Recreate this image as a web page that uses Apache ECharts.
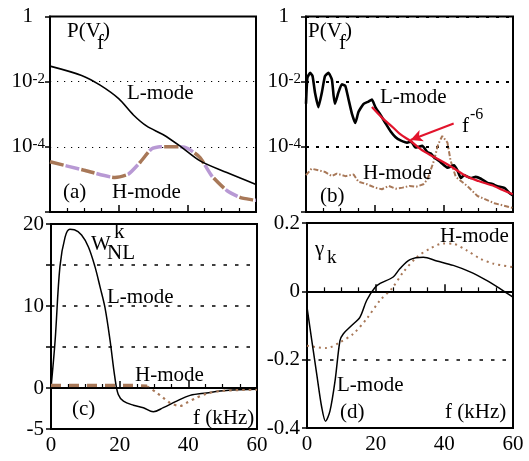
<!DOCTYPE html>
<html><head><meta charset="utf-8">
<script src="https://cdn.jsdelivr.net/npm/echarts@6/dist/echarts.min.js"></script>
<style>html,body{margin:0;padding:0;background:#fff}#c{width:529px;height:461px}</style>
</head><body><div id="c"></div>
<script>
const FONT = 'Liberation Serif';

// ---------- x axis (frequency, kHz) ----------
const xTickLabels = [0, 20, 40, 60];

// ---------- panel (a): P(Vf) ----------
const logTickExp = [0, -2, -4];
const fA_L = [0, 9.2, 14.6, 20, 24.3, 28.2, 33, 37.9, 43.7, 51.5, 60];
const pA_L = [3.0e-2, 1.55e-2, 7.8e-3, 3.0e-3, 9.5e-4, 4.3e-4, 2.35e-4, 1.05e-4, 3.7e-5, 1.62e-5, 7.0e-6];
const fA_H = [0, 9.7, 18.9, 22.8, 26.2, 29.6, 32, 37.9, 40.3, 43.7, 47.1, 51.5, 55.3, 59.2, 60];
const pA_H = [3.47e-5, 1.95e-5, 1.15e-5, 1.45e-5, 3.31e-5, 8.7e-5, 1.0e-4, 1.0e-4, 8.7e-5, 4.68e-5, 1.29e-5, 4.57e-6, 2.82e-6, 2.34e-6, 2.3e-6];

// ---------- panel (b): P(Vf) ----------
const fB_L = [0, 0.4, 1.2, 1.9, 2.6, 3.6, 4.6, 5.5, 6.5, 7.5, 8.0, 8.4, 9.4, 10.4, 11.4, 12.3, 13.3, 14.3, 15.2, 16.7, 18.1, 19.1, 20.1, 21.6, 23, 24.5, 25.9, 27.4, 29.3, 30.5, 31.7, 33.7, 35.2, 36.2, 37.1, 39, 41, 42.9, 43.9, 44.9, 45.8, 47.8, 49.2, 50.7, 52.6, 54, 55.5, 57.5, 58.9, 60];
const pB_L = [2.09e-3, 1.32e-2, 1.86e-2, 1.48e-2, 4.68e-3, 1.66e-3, 4.68e-3, 1.48e-2, 1.86e-2, 1.17e-2, 3.72e-3, 2.09e-3, 4.68e-3, 8.3e-3, 7.4e-3, 2.95e-3, 1.05e-3, 5.4e-4, 1.17e-3, 2.09e-3, 2.45e-3, 2.82e-3, 1.66e-3, 9.5e-4, 5.4e-4, 3.0e-4, 2.0e-4, 1.58e-4, 1.35e-4, 1.45e-4, 9.5e-5, 1.07e-4, 6.8e-5, 6.2e-5, 4.8e-5, 3.4e-5, 2.3e-5, 2.7e-5, 1.9e-5, 1.1e-5, 1.35e-5, 1.1e-5, 1.2e-5, 1.05e-5, 7.8e-6, 7.2e-6, 6.2e-6, 5.5e-6, 3.9e-6, 3.2e-6];
const fB_fit = [19.1, 22, 25.4, 27.4, 30.3, 33.2, 36, 39, 42, 46.8, 50, 54.6, 57, 59.9];
const pB_fit = [1.66e-3, 7.9e-4, 3.8e-4, 2.4e-4, 1.51e-4, 8.5e-5, 5.6e-5, 3.8e-5, 2.5e-5, 1.2e-5, 8.9e-6, 6.2e-6, 4.7e-6, 3.5e-6];
const fB_H = [0, 1.6, 3.6, 5.5, 7.5, 8.9, 11.4, 13.8, 15.2, 17.7, 20, 22, 24, 26, 28, 30, 32, 34, 35.2, 37.1, 38.3, 39.5, 41, 41.9, 43.4, 46.8, 49.7, 54.6, 59.4, 60];
const pB_H = [1.35e-5, 2.14e-5, 1.9e-5, 1.7e-5, 1.26e-5, 1.51e-5, 1.26e-5, 1.41e-5, 8.5e-6, 7.1e-6, 5.6e-6, 5.0e-6, 6.3e-6, 5.2e-6, 5.6e-6, 6.3e-6, 6.0e-6, 7.1e-6, 1.0e-5, 3.8e-5, 1.2e-4, 2.14e-4, 1.35e-4, 3.8e-5, 1.2e-5, 6.2e-6, 3.1e-6, 1.86e-6, 1.38e-6, 1.32e-6];
// arrow pointing to the f^-6 fit: [start, end] as [f, P]
const arrowB = [[42.8, 5.2e-4], [30.3, 1.62e-4]];

// ---------- panel (c): W_NL^k ----------
const cTickLabels = [20, 10, 0, -5];
const fC_L = [0, 1.2, 2.6, 4.1, 5.5, 6.8, 8.9, 10.9, 12.8, 14.3, 15.7, 17.2, 18.6, 19.6, 21.1, 24, 26.9, 29.8, 32.7, 36.6, 40.5, 45.3, 51, 60];
const wC_L = [0, 5.8, 14.8, 18.4, 19.35, 19.3, 18.65, 17.2, 14.8, 12.3, 9.85, 5.8, 1.3, -0.8, -1.6, -2.1, -2.4, -2.9, -2.4, -1.6, -0.9, -0.6, -0.3, -0.15];
const fC_Hdash = [0, 5, 10, 15, 20, 25, 28];
const wC_Hdash = [0.3, 0.3, 0.3, 0.3, 0.3, 0.3, 0.2];
const fC_Hdot = [28, 30.8, 32.7, 34.6, 37.5, 39.5, 42.4, 45.3, 49.2, 60];
const wC_Hdot = [0.2, -0.57, -1.19, -1.8, -2.2, -1.8, -1.19, -0.7, -0.37, -0.2];

// ---------- panel (d): gamma_k ----------
const fD_L = [0, 1.4, 2.8, 4.3, 5.4, 6.7, 8.2, 9.6, 10.6, 13, 15.4, 17.4, 19.8, 21.3, 25.1, 27.1, 30, 33.9, 37.8, 42.6, 47.5, 52.3, 56.2, 60];
const gD_L = [-0.046, -0.144, -0.24, -0.34, -0.38, -0.35, -0.26, -0.144, -0.124, -0.1, -0.076, -0.026, 0.011, 0.023, 0.042, 0.067, 0.093, 0.1, 0.089, 0.076, 0.057, 0.032, 0.008, -0.017];
const fD_H = [0, 5.7, 9.6, 13.5, 17.4, 21.3, 24.7, 28.1, 32, 35.8, 39.7, 42.6, 46.5, 50.4, 54.3, 60];
const gD_H = [-0.159, -0.166, -0.149, -0.124, -0.08, -0.026, 0.008, 0.057, 0.1, 0.125, 0.14, 0.139, 0.12, 0.096, 0.081, 0.071];

const zip = (a, b) => a.map((v, i) => [v, b[i]]);

const BLACK = '#000';
const BROWN = '#a87858';
const PURPLE = '#b899d4';
const RED = '#e2142c';

const grids = [
  {left: 50, top: 12, width: 206, height: 200},
  {left: 306, top: 12, width: 207, height: 200},
  {left: 51, top: 224, width: 206, height: 205},
  {left: 307, top: 223, width: 206, height: 205}
].map(g => Object.assign(g, {show: true, borderColor: BLACK, borderWidth: 2, backgroundColor: 'transparent'}));

function xAx(i) {
  return {
    type: 'value', gridIndex: i, min: 0, max: 60, interval: 20,
    axisLine: {show: true, lineStyle: {color: BLACK, width: 2}},
    axisTick: {show: true, inside: true, length: 7, lineStyle: {color: BLACK, width: 1.5}},
    minorTick: {show: true, splitNumber: 4, length: 4, lineStyle: {color: BLACK, width: 1.2}},
    axisLabel: {show: i >= 2, fontFamily: FONT, fontSize: 21, color: BLACK, margin: 6,
      formatter: v => xTickLabels.includes(v) ? String(v) : ''},
    splitLine: {show: false}
  };
}
const labelRich = {
  b: {fontFamily: FONT, fontSize: 21, color: BLACK, lineHeight: 21, padding: [6, 0, 0, 0], verticalAlign: 'bottom'},
  s: {fontFamily: FONT, fontSize: 15, color: BLACK, lineHeight: 15, verticalAlign: 'top'},
  sp: {width: 12, lineHeight: 15}
};
function logY(i, dash, w) {
  return {
    type: 'log', logBase: 10, gridIndex: i, min: 1e-6, max: 1, interval: 2,
    axisLine: {show: true, lineStyle: {color: BLACK, width: 2}},
    axisTick: {show: true, inside: false, length: 5, lineStyle: {color: BLACK, width: 1.5}},
    axisLabel: {margin: 5, rich: labelRich, formatter: v => {
      const e = Math.round(Math.log10(v));
      if (!logTickExp.includes(e)) return '';
      if (e === 0) return '{b|1}{sp|}';
      return '{b|10}{s|' + e + '}';
    }},
    splitLine: {show: true, lineStyle: {color: BLACK, width: w, type: dash}}
  };
}

const option = {
  animation: false,
  backgroundColor: '#fff',
  textStyle: {fontFamily: FONT},
  grid: grids,
  xAxis: [xAx(0), xAx(1), xAx(2), xAx(3)],
  yAxis: [
    logY(0, [1.2, 5.8], 1.2),
    logY(1, [3, 7], 1.8),
    {
      type: 'value', gridIndex: 2, min: -5, max: 20, interval: 5,
      axisLine: {show: true, lineStyle: {color: BLACK, width: 2}},
      axisTick: {show: true, length: 5, lineStyle: {color: BLACK, width: 1.5}},
      axisLabel: {fontFamily: FONT, fontSize: 21, color: BLACK, margin: 7,
        formatter: v => cTickLabels.includes(v) ? String(v) : ''},
      splitLine: {show: true, lineStyle: {color: BLACK, width: 1.6, type: [3.5, 8]}}
    },
    {
      type: 'value', gridIndex: 3, min: -0.4, max: 0.2, interval: 0.2,
      axisLine: {show: true, lineStyle: {color: BLACK, width: 2}},
      axisTick: {show: true, length: 5, lineStyle: {color: BLACK, width: 1.5}},
      axisLabel: {fontFamily: FONT, fontSize: 21, color: BLACK, margin: 7,
        formatter: v => String(+v.toFixed(1))},
      splitLine: {show: true, lineStyle: {color: BLACK, width: 1.6, type: [3.5, 8]}}
    }
  ],
  series: [
    // (a)
    {type: 'line', xAxisIndex: 0, yAxisIndex: 0, data: zip(fA_H, pA_H), showSymbol: false, smooth: 0.2,
      lineStyle: {color: BROWN, width: 3.5, type: [14, 18]}},
    {type: 'line', xAxisIndex: 0, yAxisIndex: 0, data: zip(fA_H, pA_H), showSymbol: false, smooth: 0.2,
      lineStyle: {color: PURPLE, width: 3.5, type: [14, 18], dashOffset: 16}},
    {type: 'line', xAxisIndex: 0, yAxisIndex: 0, data: zip(fA_L, pA_L), showSymbol: false, smooth: 0.3,
      lineStyle: {color: BLACK, width: 1.6}},
    // (b)
    {type: 'line', xAxisIndex: 1, yAxisIndex: 1, data: zip(fB_H, pB_H), showSymbol: false,
      lineStyle: {color: BROWN, width: 2, type: [5, 2, 1.5, 2]}},
    {type: 'line', xAxisIndex: 1, yAxisIndex: 1, data: zip(fB_L, pB_L), showSymbol: false, smooth: 0.15,
      lineStyle: {color: BLACK, width: 2.6}},
    {type: 'line', xAxisIndex: 1, yAxisIndex: 1, data: zip(fB_fit, pB_fit), showSymbol: false, smooth: 0.3,
      lineStyle: {color: RED, width: 2.2},
      markLine: {silent: true, symbol: ['none', 'arrow'], symbolSize: [9, 12], label: {show: false},
        lineStyle: {color: RED, width: 2, type: 'solid'},
        data: [[{coord: arrowB[0]}, {coord: arrowB[1]}]]}},
    // (c)
    {type: 'line', xAxisIndex: 2, yAxisIndex: 2, data: zip(fC_L, wC_L), showSymbol: false, smooth: 0.35,
      lineStyle: {color: BLACK, width: 1.5},
      markLine: {silent: true, symbol: 'none', label: {show: false},
        lineStyle: {color: BLACK, width: 1.5, type: 'solid'}, data: [{yAxis: 0}]}},
    {type: 'line', xAxisIndex: 2, yAxisIndex: 2, data: zip(fC_Hdash, wC_Hdash), showSymbol: false,
      lineStyle: {color: BROWN, width: 3.5, type: [10, 8]}},
    {type: 'line', xAxisIndex: 2, yAxisIndex: 2, data: zip(fC_Hdot, wC_Hdot), showSymbol: false, smooth: 0.3,
      lineStyle: {color: BROWN, width: 2.2, type: [2.5, 4]}},
    // (d)
    {type: 'line', xAxisIndex: 3, yAxisIndex: 3, data: zip(fD_H, gD_H), showSymbol: false, smooth: 0.3,
      lineStyle: {color: BROWN, width: 2, type: [2, 4]}},
    {type: 'line', xAxisIndex: 3, yAxisIndex: 3, data: zip(fD_L, gD_L), showSymbol: false, smooth: 0.3,
      lineStyle: {color: BLACK, width: 1.5},
      markLine: {silent: true, symbol: 'none', label: {show: false},
        lineStyle: {color: BLACK, width: 1.5, type: 'solid'}, data: [{yAxis: 0}]}}
  ],
  graphic: []
};

function txt(s, x, y, size) {
  return {type: 'text', x: x, y: y, z: 100, silent: true,
    style: {text: s, fontFamily: FONT, fontSize: size || 21, fill: BLACK, align: 'left', verticalAlign: 'middle'}};
}
option.graphic = [
  // (a)
  txt('P(V', 67, 31), txt('f', 97, 43), txt(')', 103, 31),
  txt('L-mode', 127, 93), txt('H-mode', 112, 192), txt('(a)', 63, 192),
  // (b)
  txt('P(V', 308, 31), txt('f', 339, 43), txt(')', 345, 31),
  txt('L-mode', 380, 97), txt('f', 462, 126), txt('-6', 470, 115, 16),
  txt('H-mode', 363, 173), txt('(b)', 320, 196),
  // (c)
  txt('W', 91, 244), txt('NL', 107, 253), txt('k', 114, 232),
  txt('L-mode', 107, 297), txt('H-mode', 135, 375), txt('(c)', 72, 409), txt('f (kHz)', 193, 418),
  // (d)
  txt('γ', 315, 249), txt('k', 327, 258, 19),
  txt('H-mode', 440, 236), txt('L-mode', 337, 385), txt('(d)', 340, 412), txt('f (kHz)', 445, 412)
];

const chart = echarts.init(document.getElementById('c'), null, {renderer: 'canvas'});
chart.setOption(option);
</script></body></html>
